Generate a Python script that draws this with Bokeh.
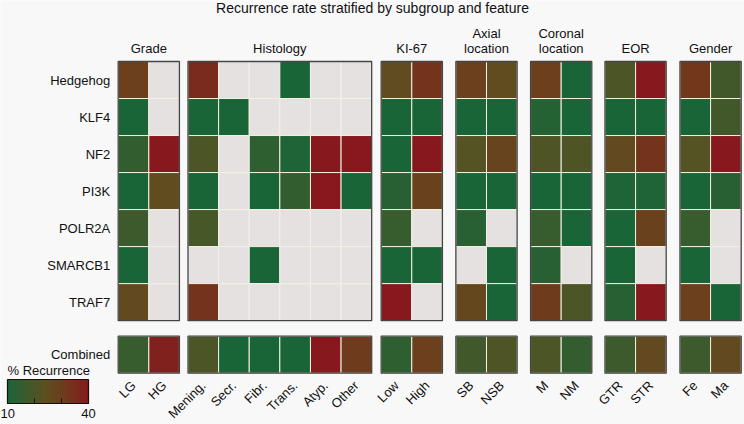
import numpy as np
from math import pi
from bokeh.plotting import figure
from bokeh.core.properties import value
from bokeh.models import (ColumnDataSource, LinearColorMapper, ColorBar,
                          FixedTicker, Range1d, LabelSet, Label)
from bokeh.embed import file_html
from bokeh.resources import INLINE

NA = np.nan

# ---------------- data ----------------
rows = ["Hedgehog", "KLF4", "NF2", "PI3K", "POLR2A", "SMARCB1", "TRAF7", "Combined"]
panel_names = ["Grade", "Histology", "KI-67", "Axial\nlocation",
               "Coronal\nlocation", "EOR", "Gender"]

grade_cats = ["LG", "HG"]
histology_cats = ["Mening.", "Secr.", "Fibr.", "Trans.", "Atyp.", "Other"]
ki67_cats = ["Low", "High"]
axial_cats = ["SB", "NSB"]
coronal_cats = ["M", "NM"]
eor_cats = ["GTR", "STR"]
gender_cats = ["Fe", "Ma"]

# % recurrence, one row per entry of `rows`
grade_vals = [[30, NA], [10, NA], [15, 40], [10, 25], [17, NA], [10, NA], [26, NA], [16, 38]]
histology_vals = [
    [35, NA, NA, 10, NA, NA],
    [10, 10, NA, NA, NA, NA],
    [20, NA, 14, 11, 40, 40],
    [10, NA, 10, 15, 40, 10],
    [19, NA, NA, NA, NA, NA],
    [NA, NA, 10, NA, NA, NA],
    [33, NA, NA, NA, NA, NA],
    [20, 10, 10, 10, 40, 31],
]
ki67_vals = [[25, 33], [10, 10], [10, 40], [13, 29], [16, NA], [10, 10], [40, NA], [14, 30]]
axial_vals = [[30, 25], [10, 10], [22, 28], [10, 10], [13, NA], [NA, 10], [27, 10], [18, 21]]
coronal_vals = [[30, 10], [12, 10], [21, 21], [10, 10], [16, 10], [13, NA], [31, 20], [20, 15]]
eor_vals = [[20, 40], [10, 10], [26, 33], [11, 11], [10, 29], [10, NA], [13, 40], [17, 26]]
gender_vals = [[32, 18], [10, 18], [22, 40], [10, 13], [16, NA], [10, NA], [30, 10], [17, 26]]

colorbar_ticks = [10, 20, 30, 40]
colorbar_labels = {10: "10", 20: "", 30: "", 40: "40"}
title_text = "Recurrence rate stratified by subgroup and feature"

# ---------------- layout / style ----------------
panel_cats = [grade_cats, histology_cats, ki67_cats, axial_cats, coronal_cats, eor_cats, gender_cats]
panel_vals = [grade_vals, histology_vals, ki67_vals, axial_vals, coronal_vals, eor_vals, gender_vals]
panel_gaps = [0.28, 0.31, 0.44, 0.44, 0.43, 0.45]
combined_gap = 0.42
FONT = "Liberation Sans"
TXT = "#111111"
BG = "#f8f8f8"
W, H = 744, 424
# pixel box of the heatmap area inside the canvas
HM_LEFT, HM_RIGHT, HM_TOP, HM_BOTTOM = 117.7, 740.7, 61.0, 372.7

# colormap green -> olive -> brown -> red
anchors = [(0.0, (26, 101, 56)), (0.45, (92, 80, 32)), (0.7, (110, 60, 28)), (1.0, (135, 25, 30))]
palette = []
for i in range(256):
    t = i / 255
    for (t0, c0), (t1, c1) in zip(anchors[:-1], anchors[1:]):
        if t0 <= t <= t1:
            f = (t - t0) / (t1 - t0)
            c = [round(a + (b - a) * f) for a, b in zip(c0, c1)]
            palette.append("#%02x%02x%02x" % tuple(c))
            break
mapper = LinearColorMapper(palette=palette, low=10, high=40, nan_color="#e4e1e0")

n_genes = len(rows) - 1
y_top = 1 + combined_gap + n_genes


def row_center(i):
    if i == n_genes:
        return 0.5
    return 1 + combined_gap + (n_genes - 1 - i) + 0.5


starts = []
pos = 0.0
for k, cats in enumerate(panel_cats):
    starts.append(pos)
    pos += len(cats) + (panel_gaps[k] if k < len(panel_gaps) else 0)
x_end = pos

# ranges so that the heatmap area lands on its pixel box; the frame fills the canvas
ppx = (HM_RIGHT - HM_LEFT) / x_end
ppy = (HM_BOTTOM - HM_TOP) / y_top
x_range = Range1d(-HM_LEFT / ppx, x_end + (W - HM_RIGHT) / ppx)
y_range = Range1d(-(H - HM_BOTTOM) / ppy, y_top + HM_TOP / ppy)

xs, ys, vs = [], [], []
lab_x, lab_t = [], []
for k, (cats, vals) in enumerate(zip(panel_cats, panel_vals)):
    for j, cat in enumerate(cats):
        cx = starts[k] + j + 0.5
        lab_x.append(cx)
        lab_t.append(cat)
        for i in range(len(rows)):
            xs.append(cx)
            ys.append(row_center(i))
            vs.append(vals[i][j])
src = ColumnDataSource(data=dict(x=xs, y=ys, v=np.array(vs, dtype=float)))

p = figure(width=W, height=H, output_backend="svg", toolbar_location=None,
           x_range=x_range, y_range=y_range,
           min_border=0, min_border_left=0, min_border_right=0,
           min_border_top=0, min_border_bottom=0,
           background_fill_color=BG, border_fill_color=BG, outline_line_color=None)
p.xgrid.visible = False
p.ygrid.visible = False
p.xaxis.visible = False
p.yaxis.visible = False

p.rect(x="x", y="y", width=1, height=1, source=src,
       fill_color={"field": "v", "transform": mapper},
       line_color="#f3f1e4", line_width=1)

# panel frames
bl, br, bb, bt = [], [], [], []
for k, cats in enumerate(panel_cats):
    for lo, hi in [(0, 1), (1 + combined_gap, y_top)]:
        bl.append(starts[k]); br.append(starts[k] + len(cats))
        bb.append(lo); bt.append(hi)
p.quad(left=bl, right=br, bottom=bb, top=bt, fill_alpha=0,
       line_color="#454545", line_width=1.3)

txt_style = dict(text_font=value(FONT), text_font_size=value("13px"), text_color=TXT)

# row labels
row_src = ColumnDataSource(data=dict(x=[0] * len(rows), y=[row_center(i) for i in range(len(rows))], t=rows))
p.add_layout(LabelSet(x="x", y="y", text="t", source=row_src, text_align="right",
                      text_baseline="middle", x_offset=-8, **txt_style))

# bottom category labels (rotated)
cat_src = ColumnDataSource(data=dict(x=lab_x, y=[0] * len(lab_x), t=lab_t))
p.add_layout(LabelSet(x="x", y="y", text="t", source=cat_src, angle=pi / 4,
                      text_align="right", text_baseline="middle",
                      x_offset=0, y_offset=-10, **txt_style))

# panel headers (one LabelSet per text line, bottom line first)
hdr_x = [starts[k] + len(c) / 2 for k, c in enumerate(panel_cats)]
hdr_lines = [n.split("\n") for n in panel_names]
max_lines = max(len(l) for l in hdr_lines)
for depth in range(max_lines):
    hx, ht = [], []
    for x, lines in zip(hdr_x, hdr_lines):
        if depth < len(lines):
            hx.append(x)
            ht.append(lines[len(lines) - 1 - depth])
    hsrc = ColumnDataSource(data=dict(x=hx, y=[y_top] * len(hx), t=ht))
    p.add_layout(LabelSet(x="x", y="y", text="t", source=hsrc,
                          text_align="center", text_baseline="middle",
                          y_offset=13 + 15 * depth, **txt_style))

# title
p.add_layout(Label(x=W / 2, y=H - 7, x_units="screen", y_units="screen",
                   text=title_text, text_align="center", text_baseline="middle",
                   text_font=FONT, text_font_size="14px", text_color=TXT))

cb = ColorBar(color_mapper=mapper, orientation="horizontal", location=(7, 4),
              width=81, height=24, padding=0,
              title="% Recurrence", title_text_font=FONT, title_text_font_size="13px",
              title_text_font_style="normal", title_text_color=TXT, title_standoff=3,
              ticker=FixedTicker(ticks=colorbar_ticks), major_label_overrides=colorbar_labels,
              major_label_text_font=FONT, major_label_text_font_size="13px",
              major_label_text_color=TXT, label_standoff=5,
              major_tick_in=5, major_tick_out=0, major_tick_line_color=TXT,
              bar_line_color=TXT, bar_line_width=1.2,
              background_fill_alpha=0, border_line_alpha=0)
p.add_layout(cb, "center")

open("out.html", "w").write(file_html(p, INLINE))
